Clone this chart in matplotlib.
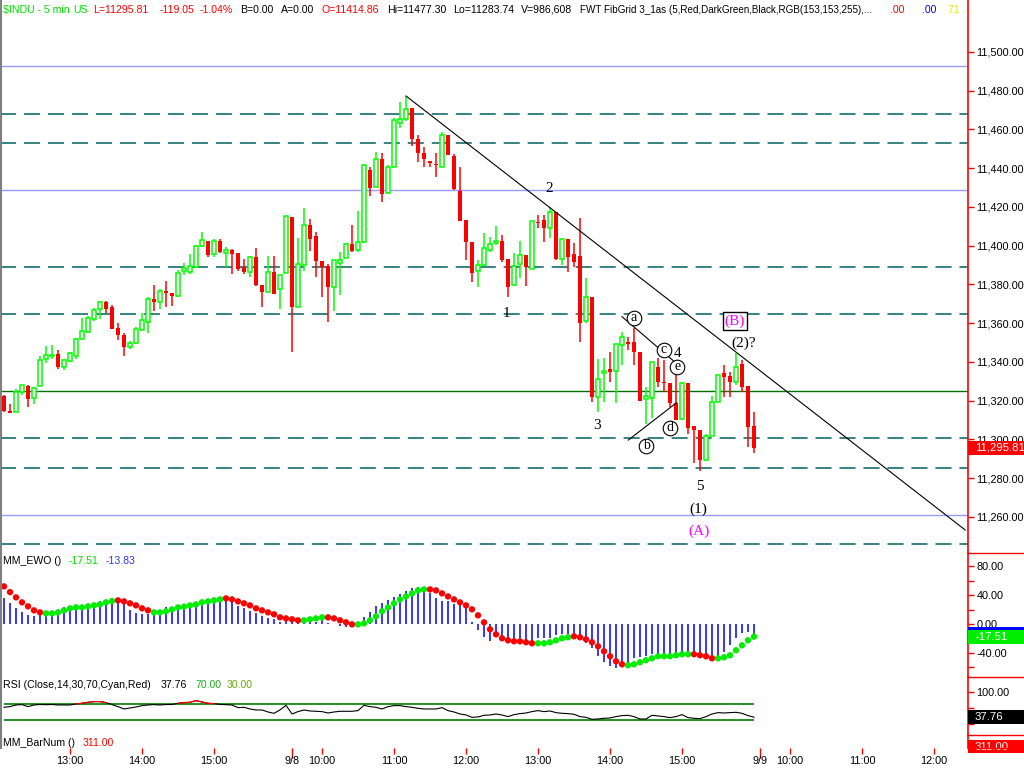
import numpy as np
import matplotlib
matplotlib.use("Agg")
import matplotlib.pyplot as plt
import matplotlib.transforms as mtransforms
from matplotlib.patches import Rectangle
from matplotlib.lines import Line2D
from matplotlib.ticker import FuncFormatter, FixedLocator

W, H = 1024, 768
UI_FONT = "Liberation Sans"
WAVE_FONT = "Liberation Serif"
plt.rcParams["font.family"] = UI_FONT

# ---- 5 min bars of $INDU (12:05 on day one through 16:00 on 9/8) ----
opens = [11322.5, 11314.7, 11314.0, 11324.7, 11327.6, 11321.2, 11327.5, 11341.4, 11343.2, 11344.1,
         11337.6, 11340.7, 11342.9, 11351.7, 11355.7, 11362.4, 11367.2, 11371.1, 11368.4, 11357.6,
         11353.8, 11347.6, 11349.6, 11356.5, 11360.5, 11372.5, 11370.9, 11376.6, 11375.4, 11374.1,
         11387.0, 11386.3, 11389.2, 11399.9, 11402.4, 11395.6, 11402.6, 11396.4, 11397.8, 11396.3,
         11388.9, 11386.6, 11394.2, 11379.7, 11376.3, 11386.3, 11377.5, 11385.8, 11414.9, 11368.2,
         11389.9, 11410.5, 11405.0, 11392.1, 11389.5, 11378.5, 11391.3, 11393.5, 11400.9, 11397.8,
         11402.1, 11439.1, 11430.5, 11444.8, 11427.1, 11440.8, 11463.2, 11465.3, 11471.1, 11454.9,
         11448.0, 11443.7, 11441.7, 11440.5, 11457.2, 11446.3, 11428.3, 11413.3, 11401.9, 11386.8,
         11389.9, 11397.8, 11401.2, 11402.3, 11393.0, 11379.6, 11390.4, 11395.0, 11387.8, 11412.4,
         11413.3, 11409.0, 11417.6, 11393.0, 11403.3, 11395.7, 11394.7, 11361.0, 11373.6, 11321.8,
         11334.2, 11336.4, 11335.4, 11348.8, 11349.8, 11350.1, 11345.0, 11320.7, 11321.2, 11337.6,
         11329.9, 11329.2, 11319.0, 11310.4, 11329.0, 11307.0, 11304.9, 11289.4, 11301.8, 11319.2,
         11334.1, 11332.9, 11329.8, 11338.9, 11327.6, 11307.0]
highs = [11323.0, 11318.3, 11325.9, 11328.0, 11328.3, 11327.3, 11343.1, 11348.3, 11348.6, 11346.2,
         11341.4, 11345.3, 11352.5, 11362.9, 11363.7, 11367.9, 11371.7, 11371.7, 11369.3, 11360.0,
         11354.8, 11351.0, 11357.9, 11365.1, 11373.7, 11379.6, 11377.6, 11381.8, 11375.8, 11387.5,
         11391.3, 11395.7, 11400.4, 11407.1, 11402.6, 11403.5, 11403.3, 11399.5, 11398.2, 11396.3,
         11393.2, 11394.9, 11399.0, 11379.7, 11394.9, 11394.9, 11384.7, 11415.4, 11414.9, 11404.2,
         11419.7, 11413.8, 11407.1, 11392.1, 11390.4, 11392.4, 11396.9, 11401.2, 11410.5, 11418.1,
         11441.5, 11440.8, 11448.6, 11448.1, 11441.7, 11465.8, 11474.2, 11477.3, 11471.1, 11457.2,
         11451.1, 11443.7, 11448.0, 11458.6, 11457.2, 11447.4, 11440.5, 11413.3, 11401.9, 11392.7,
         11406.4, 11404.7, 11410.4, 11405.6, 11393.0, 11396.1, 11402.3, 11395.0, 11412.6, 11415.7,
         11415.9, 11420.2, 11417.6, 11403.3, 11403.3, 11401.2, 11414.2, 11383.2, 11373.6, 11341.4,
         11341.9, 11345.3, 11349.1, 11355.5, 11353.1, 11357.4, 11345.0, 11327.3, 11340.2, 11341.9,
         11341.1, 11329.2, 11335.0, 11329.8, 11329.0, 11307.0, 11304.9, 11302.8, 11322.6, 11333.3,
         11338.4, 11335.0, 11344.5, 11341.0, 11327.6, 11314.4]
lows = [11314.4, 11313.8, 11314.0, 11323.0, 11316.9, 11318.2, 11327.5, 11339.3, 11341.7, 11336.5,
        11336.0, 11340.2, 11341.4, 11351.7, 11355.2, 11361.3, 11362.0, 11365.1, 11356.9, 11351.4,
        11343.3, 11346.5, 11349.3, 11356.5, 11354.8, 11366.5, 11367.2, 11368.6, 11369.1, 11373.4,
        11384.7, 11385.4, 11388.9, 11399.5, 11394.4, 11394.4, 11396.2, 11388.9, 11385.4, 11387.2,
        11385.4, 11384.0, 11379.2, 11368.6, 11376.3, 11375.3, 11367.4, 11385.8, 11345.3, 11368.2,
        11387.1, 11397.5, 11384.0, 11373.7, 11360.8, 11366.5, 11374.6, 11393.5, 11396.9, 11396.9,
        11401.6, 11425.7, 11430.5, 11422.8, 11426.6, 11440.5, 11460.6, 11464.4, 11451.5, 11443.4,
        11440.5, 11440.5, 11435.7, 11440.5, 11446.7, 11428.8, 11412.9, 11392.7, 11381.5, 11378.9,
        11389.9, 11396.9, 11400.4, 11391.8, 11373.7, 11379.6, 11383.2, 11379.4, 11387.8, 11409.0,
        11401.8, 11403.8, 11392.7, 11389.9, 11386.6, 11389.2, 11350.5, 11360.3, 11319.5, 11314.4,
        11319.5, 11329.8, 11318.6, 11338.5, 11346.2, 11338.5, 11320.1, 11308.0, 11310.9, 11327.3,
        11324.7, 11316.9, 11310.1, 11310.1, 11302.8, 11287.7, 11283.7, 11289.1, 11301.8, 11319.2,
        11322.1, 11322.1, 11328.1, 11324.7, 11296.0, 11293.2]
closes = [11314.9, 11313.9, 11324.7, 11328.0, 11320.7, 11326.8, 11340.9, 11343.4, 11343.5, 11337.2,
          11340.9, 11344.5, 11351.7, 11356.0, 11362.7, 11366.8, 11370.8, 11367.2, 11356.9, 11353.8,
          11347.9, 11349.6, 11356.9, 11361.7, 11372.3, 11371.1, 11376.5, 11375.4, 11374.2, 11386.1,
          11388.7, 11389.4, 11399.9, 11403.0, 11395.2, 11402.3, 11396.9, 11397.6, 11395.7, 11388.2,
          11386.4, 11394.2, 11379.7, 11376.3, 11386.3, 11375.3, 11384.7, 11415.4, 11368.6, 11390.4,
          11410.5, 11403.7, 11392.3, 11389.2, 11378.5, 11392.4, 11392.6, 11400.7, 11397.5, 11402.1,
          11441.5, 11429.6, 11444.9, 11426.6, 11440.5, 11464.7, 11465.3, 11470.4, 11454.9, 11448.0,
          11444.9, 11442.5, 11441.5, 11457.2, 11446.7, 11429.3, 11412.9, 11401.9, 11385.8, 11389.9,
          11398.7, 11400.7, 11402.3, 11392.7, 11378.9, 11389.6, 11395.0, 11388.9, 11412.6, 11411.9,
          11409.2, 11417.2, 11393.0, 11403.3, 11394.4, 11391.8, 11360.3, 11373.4, 11321.8, 11331.1,
          11335.5, 11335.0, 11349.1, 11353.1, 11349.5, 11345.0, 11320.1, 11322.5, 11340.2, 11329.9,
          11329.0, 11319.0, 11310.1, 11329.0, 11305.8, 11304.9, 11289.4, 11301.8, 11319.2, 11333.3,
          11332.4, 11329.8, 11337.6, 11327.3, 11306.3, 11295.81]

# ---- MM_EWO: histogram and dot line, dot colour per bar (R falling / G rising) ----
ewo_hist = [36.4, 29.5, 22.6, 17.1, 12.4, 11.1, 12.4, 12.4, 12.4, 20.7,
            23.5, 21.2, 24.0, 24.9, 25.3, 26.3, 31.8, 29.5, 30.9, 28.6,
            28.6, 19.4, 15.7, 13.8, 14.3, 12.4, 12.4, 23.5, 21.7, 25.3,
            26.3, 27.2, 28.6, 28.6, 30.9, 30.9, 31.8, 36.4, 30.9, 24.9,
            22.6, 18.4, 15.7, 11.5, 8.8, 6.9, 3.2, 5.1, 3.2, 2.3,
            3.2, 8.0, 2.3, 6.5, 0.9, -0.5, -2.3, -3.7, 0.9, 3.2,
            9.7, 17.1, 24.9, 29.0, 33.2, 37.8, 41.5, 46.1, 50.2, 51.6,
            44.7, 42.4, 36.4, 31.8, 32.3, 27.6, 27.2, 22.6, 3.2, -8.3,
            -17.5, -23.0, -16.1, -22.1, -20.7, -22.1, -19.8, -22.1, -24.4, -19.8,
            -19.8, -18.9, -15.2, -14.3, -14.3, -17.5, -22.1, -26.7, -33.6, -43.8,
            -53.0, -57.6, -61.3, -55.8, -57.6, -46.5, -45.2, -44.2, -41.9, -44.2,
            -42.9, -42.9, -41.0, -42.9, -42.9, -42.9, -42.9, -46.5, -45.2, -46.5,
            -38.2, -29.0, -18.9, -12.9, -11.5, -13.83]
ewo_dots = [52.1, 44.2, 36.9, 30.0, 24.4, 18.9, 16.1, 14.7, 14.7, 16.1,
            18.9, 21.7, 23.0, 23.0, 24.4, 25.8, 27.2, 30.0, 31.8, 32.7,
            31.3, 28.6, 25.8, 21.7, 18.9, 16.1, 16.1, 17.5, 20.3, 23.0,
            24.0, 25.8, 27.2, 30.0, 31.3, 32.7, 34.1, 35.5, 34.1, 31.3,
            28.6, 25.8, 21.7, 18.9, 16.1, 13.4, 9.2, 7.8, 6.5, 5.1,
            5.1, 6.5, 7.8, 9.2, 9.2, 7.8, 5.1, 2.3, -0.5, -0.5,
            0.9, 5.1, 10.6, 17.5, 23.0, 28.6, 34.1, 38.2, 42.4, 46.5,
            47.9, 47.9, 46.5, 42.4, 38.2, 34.1, 30.0, 25.8, 20.3, 12.0,
            2.3, -7.4, -14.3, -19.8, -22.6, -24.0, -24.0, -25.3, -26.7, -26.7,
            -26.7, -25.3, -22.6, -19.8, -18.4, -17.1, -18.4, -21.2, -25.3, -30.9,
            -37.8, -44.7, -51.6, -55.8, -57.1, -55.8, -53.0, -50.2, -47.5, -44.7,
            -44.7, -44.7, -43.3, -41.9, -41.9, -41.9, -43.3, -44.7, -47.5, -47.5,
            -46.1, -43.3, -36.4, -29.5, -22.6, -17.51]
ewo_dot_state = ("RRRRRRR" "GGGGGGGGGGGG" "RRRRRR" "GGGGGGGGGGGG" "RRRRRRRRRRRRR" "GGGG"
                 "RRRRR" "GGGGGGGGGGGG" "RRRRRRRRRRRRRRRRRR" "GGGGGG" "RRRRRRRRR"
                 "GGGGGGGGGGG" "RRRR" "GGGGGGG")

# ---- RSI(14) ----
rsi = [62.5, 64.2, 68.3, 69.2, 64.2, 68.3, 69.5, 69.0, 69.5, 68.3,
       68.3, 68.3, 70.8, 72.5, 75.0, 76.7, 76.7, 74.2, 69.2, 64.2,
       58.3, 60.8, 63.3, 66.7, 68.3, 69.2, 68.3, 69.5, 69.5, 72.5,
       74.2, 75.0, 79.2, 75.8, 72.5, 71.7, 69.8, 69.0, 68.3, 61.7,
       62.5, 58.3, 55.8, 55.8, 50.8, 47.5, 55.8, 67.5, 45.8, 51.7,
       55.8, 53.3, 52.5, 51.7, 48.3, 50.8, 52.5, 52.5, 52.5, 54.2,
       67.5, 64.2, 62.5, 58.3, 64.2, 66.7, 66.7, 64.2, 62.5, 60.0,
       58.3, 58.3, 58.3, 61.7, 54.2, 50.8, 45.8, 43.3, 37.5, 38.3,
       42.5, 43.3, 45.8, 43.3, 39.2, 44.2, 46.7, 48.3, 51.7, 54.2,
       51.7, 53.3, 49.2, 47.5, 46.7, 45.0, 39.2, 37.5, 32.5, 33.3,
       35.0, 35.8, 39.2, 41.7, 42.5, 39.2, 33.3, 33.3, 42.5, 40.8,
       39.2, 36.7, 39.2, 44.2, 36.7, 35.0, 34.2, 39.2, 45.8, 49.2,
       48.3, 49.2, 50.0, 47.5, 41.7, 37.76]
rsi_upper, rsi_lower = 70.0, 30.0
bar_num = 311.00

# ---- FibGrid levels ----
fib_blue = [11492.8, 11428.8, 11261.0]
fib_dashed = [11468.0, 11453.0, 11389.0, 11364.8, 11300.8, 11285.3, 11246.1]
fib_green = [11325.0]

# ---- trend lines (bar index, price) ----
trend_main = ([67.0, 160.2], [11477.3, 11253.3])
trend_ace = ([103.0, 112.7], [11363.4, 11337.6])
trend_bd = ([104.05, 112.1], [11299.7, 11319.0])

# ---- wave labels ----
wave_plain = [("2", 90.8, 11429.8), ("1", 83.8, 11364.8), ("3", 98.8, 11307.0),
              ("4", 112.2, 11344.6), ("5", 116.0, 11275.5), ("(1)", 115.8, 11264.1),
              ("(2)?", 123.2, 11349.8)]
wave_circled = [("a", 105.0, 11362.7), ("c", 110.0, 11346.2), ("e", 112.2, 11337.4),
                ("d", 111.0, 11305.9), ("b", 107.0, 11296.6)]
wave_magenta = [("(A)", 115.8, 11252.8)]
wave_boxed = [("(B)", 121.8, 11361.2)]

# ---- x axis ----
tick_pos = [11, 23, 35, 48, 53, 65, 77, 89, 101, 113, 126, 131, 143, 155]
tick_lab = ["13:00", "14:00", "15:00", "9/8", "10:00", "11:00", "12:00",
            "13:00", "14:00", "15:00", "9/9", "10:00", "11:00", "12:00"]
date_ticks = ["9/8", "9/9"]

header = [(3, "$INDU - 5 min", "#00dd00"), (73, "US", "#00dd00"),
          (93, "L=11295.81", "#ff0000"), (160, "-119.05", "#ff0000"),
          (200, "-1.04%", "#ff0000"), (240, "B=0.00", "black"),
          (281, "A=0.00", "black"), (322, "O=11414.86", "#ff0000"),
          (387, "Hi=11477.30", "black"), (453, "Lo=11283.74", "black"),
          (521, "V=986,608", "black"),
          (580, "FWT FibGrid 3_1as (5,Red,DarkGreen,Black,RGB(153,153,255),...", "black"),
          (890, ".00", "#ff0000"), (922, ".00", "#0000ff"), (948, "71 ...", "#e6e600")]

FS = 7.6
X_LEFT, X_RIGHT = -4 / 6, (968 - 4) / 6
AXIS_X = 968


def px_axes(fig, x0, y0, x1, y1):
    return fig.add_axes([x0 / W, 1 - y1 / H, (x1 - x0) / W, (y1 - y0) / H])


def style_panel(ax):
    ax.set_xlim(X_LEFT, X_RIGHT)
    ax.set_facecolor("white")
    for s in ("top", "left", "bottom"):
        ax.spines[s].set_visible(False)
    ax.spines["right"].set_color("#ff0000")
    ax.spines["right"].set_linewidth(1.2)
    ax.set_xticks([])
    ax.yaxis.tick_right()
    ax.tick_params(axis="y", which="both", colors="#ff0000", labelcolor="black",
                   length=4, width=1, pad=2, labelsize=FS + 0.2)


def value_box(ax, val, label, face, px_per_unit, text_color="white"):
    tr = mtransforms.blended_transform_factory(ax.transAxes, ax.transData)
    h = 14 / px_per_unit
    ax.add_patch(Rectangle((1.0, val - h / 2), (W - AXIS_X) / AXIS_X, h, transform=tr,
                           facecolor=face, edgecolor="none", clip_on=False, zorder=10))
    ax.text(1.0 + 7 / AXIS_X, val, label, transform=tr, color=text_color, fontsize=FS + 0.6,
            va="center", ha="left", clip_on=False, zorder=11)


fig = plt.figure(figsize=(W / 100, H / 100), dpi=100)
fig.patch.set_facecolor("white")

# ---------------- price panel ----------------
ax = px_axes(fig, 0, 0, AXIS_X, 553)
style_panel(ax)
price_px = 1.9375
ax.set_ylim(11500 - 501 / price_px, 11500 + 52 / price_px)
ax.yaxis.set_major_locator(FixedLocator(np.arange(11260, 11501, 20)))
ax.yaxis.set_major_formatter(FuncFormatter(lambda v, p: f"{v:,.2f}"))

for lvl in fib_blue:
    ax.axhline(lvl, color="#9999ff", lw=1.0, zorder=1)
for lvl in fib_dashed:
    ax.axhline(lvl, color="#006060", lw=1.1, ls=(0, (10.5, 5.2)), zorder=1)
for lvl in fib_green:
    ax.axhline(lvl, color="#007000", lw=1.0, zorder=1)

o = np.array(opens)
hgh = np.array(highs)
lw_ = np.array(lows)
c = np.array(closes)
x = np.arange(len(o))
up = c >= o
ax.vlines(x[up], lw_[up], hgh[up], color="#00ff00", lw=1.1, zorder=2)
ax.vlines(x[~up], lw_[~up], hgh[~up], color="#ff0000", lw=1.1, zorder=2)
body = np.maximum(np.abs(c - o), 0.6)
ax.bar(x[up], body[up], bottom=np.minimum(o, c)[up], width=0.55, facecolor="white",
       edgecolor="#00ff00", lw=1.1, zorder=3)
ax.bar(x[~up], body[~up], bottom=np.minimum(o, c)[~up], width=0.8, color="#ff0000",
       lw=0, zorder=3)

for tx, ty in (trend_main, trend_ace, trend_bd):
    ax.plot(tx, ty, color="black", lw=0.8, zorder=4)

for lab, bx, py in wave_plain:
    ax.text(bx, py, lab, family=WAVE_FONT, fontsize=11, color="black",
            ha="center", va="center", zorder=6)
for lab, bx, py in wave_circled:
    ax.plot(bx, py, "o", ms=10.5, mfc="white", mec="black", mew=0.8, zorder=5)
    ax.text(bx, py + 0.5, lab, family=WAVE_FONT, fontsize=10, color="black",
            ha="center", va="center", zorder=6)
for lab, bx, py in wave_magenta:
    ax.text(bx, py, lab, family=WAVE_FONT, fontsize=11, color="#ff00ff",
            ha="center", va="center", zorder=6)
for lab, bx, py in wave_boxed:
    ax.text(bx, py, lab, family=WAVE_FONT, fontsize=11, color="#ff00ff",
            ha="center", va="center", zorder=6,
            bbox=dict(boxstyle="square,pad=0.12", fc="white", ec="black", lw=1))

value_box(ax, closes[-1], f"{closes[-1]:,.2f}", "#ff0000", price_px)

# ---------------- EWO panel ----------------
ax2 = px_axes(fig, 0, 553, AXIS_X, 677)
style_panel(ax2)
ewo_px = 0.722
ax2.set_ylim(-53 / ewo_px, 71 / ewo_px)
ax2.set_yticks([80, 40, 0, -40])
ax2.set_yticks([60, 20, -20, -60], minor=True)
ax2.yaxis.set_major_formatter(FuncFormatter(lambda v, p: f"{v:.2f}"))
ax2.vlines(x, 0, ewo_hist, color="#0000ff", lw=1.1, zorder=2)
dot_col = ["#ff0000" if s == "R" else "#00ee00" for s in ewo_dot_state]
ax2.scatter(x, ewo_dots, s=21, c=dot_col, edgecolors="none", zorder=3)
value_box(ax2, ewo_hist[-1], "", "#0000ff", ewo_px)
value_box(ax2, ewo_dots[-1], f"{ewo_dots[-1]:.2f}", "#00ee00", ewo_px)

# ---------------- RSI panel ----------------
ax3 = px_axes(fig, 0, 677, AXIS_X, 735)
style_panel(ax3)
rsi_px = 0.4
ax3.set_ylim(rsi_lower - 14.7 / rsi_px, rsi_lower + 43.3 / rsi_px)
ax3.set_yticks([100])
ax3.set_yticks([60, 20], minor=True)
ax3.yaxis.set_major_formatter(FuncFormatter(lambda v, p: f"{v:.2f}"))
r = np.array(rsi)
ax3.hlines([rsi_upper, rsi_lower], x[0], x[-1], color="#008000", lw=1.2, zorder=1)
ax3.plot(x, r, color="black", lw=0.8, zorder=2)
ax3.plot(x, np.where(r > rsi_upper, r, np.nan), color="#ff0000", lw=0.9, zorder=3)
value_box(ax3, rsi[-1], f"{rsi[-1]:.2f}", "black", rsi_px)

# ---------------- BarNum panel + time axis ----------------
ax4 = px_axes(fig, 0, 735, AXIS_X, 748)
style_panel(ax4)
ax4.set_ylim(0, 13)
ax4.set_yticks([])
ax4.set_xticks(tick_pos)
ax4.set_xticklabels(tick_lab)
ax4.tick_params(axis="x", colors="#ff0000", labelcolor="black", length=4, width=1,
                pad=2, labelsize=FS + 0.2, direction="out")
for t, lab in zip(ax4.xaxis.get_major_ticks(), tick_lab):
    if lab in date_ticks:
        t.tick1line.set_markersize(7)
tr4 = mtransforms.blended_transform_factory(ax4.transAxes, ax4.transAxes)
ax4.add_patch(Rectangle((1.0, 0.08 - 0.5), (W - AXIS_X) / AXIS_X, 1.0, transform=tr4,
                        facecolor="#ff0000", edgecolor="none", clip_on=False, zorder=10))
ax4.text(1.0 + 7 / AXIS_X, 0.08, f"{bar_num:.2f}", transform=tr4, color="white",
         fontsize=FS + 0.6, va="center", ha="left", clip_on=False, zorder=11)


# ---------------- panel titles and header ----------------
def ftext(px, py, s, color, size=FS, **kw):
    fig.text(px / W, 1 - py / H, s, color=color, fontsize=size, va="center", ha="left", **kw)


for hx, s, col in header:
    ftext(hx, 10, s, col, size=7.1 if s.startswith("FWT") else FS)

ftext(3, 561, "MM_EWO ()", "black")
ftext(69, 561, f"{ewo_dots[-1]:.2f}", "#00dd00")
ftext(106, 561, f"{ewo_hist[-1]:.2f}", "#3333ff")
ftext(3, 685, "RSI (Close,14,30,70,Cyan,Red)", "black")
ftext(161, 685, f"{rsi[-1]:.2f}", "black")
ftext(195, 685, f"{rsi_upper:.2f}", "#22aa22")
ftext(227, 685, f"{rsi_lower:.2f}", "#66aa00")
ftext(3, 743, "MM_BarNum ()", "black")
ftext(83, 743, f"{bar_num:.2f}", "#ff0000")

# panel separators on the price scale and left border
for yb in (553, 677, 735, 748):
    fig.add_artist(Line2D([AXIS_X / W, 1.0], [1 - yb / H] * 2, transform=fig.transFigure,
                          color="#ff0000", lw=1.0))
fig.add_artist(Line2D([1 / W, 1 / W], [1 - 748 / H, 1.0], transform=fig.transFigure,
                      color="#808080", lw=1.5))

fig.savefig("out.png", dpi=100, facecolor="white")
